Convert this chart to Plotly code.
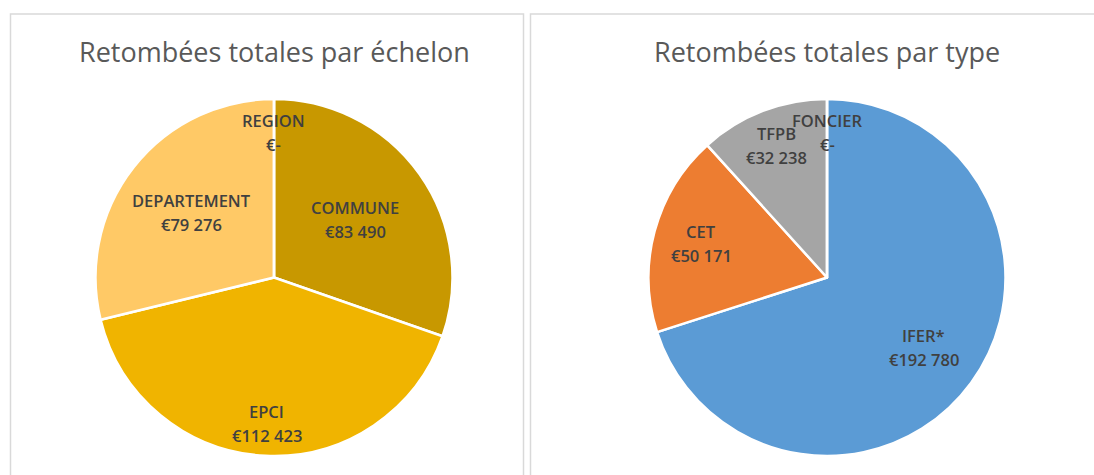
import math
import plotly.graph_objects as go

# Retombées fiscales, réparties par échelon et par type d'impôt (en euros)
echelon_labels = ["COMMUNE", "EPCI", "DEPARTEMENT", "REGION"]
echelon_values = [83490, 112423, 79276, 0]
echelon_colors = ["#C89800", "#F0B400", "#FFC966", "#FFE0A0"]

type_labels = ["IFER*", "CET", "TFPB", "FONCIER"]
type_values = [192780, 50171, 32238, 0]
type_colors = ["#5B9BD5", "#ED7D31", "#A5A5A5", "#FFC000"]

titles = ["Retombées totales par échelon", "Retombées totales par type"]

# Radial placement of each data label, as a fraction of the pie radius
echelon_label_r = [0.56, 0.82, 0.59, 0.81]
type_label_r = [0.67, 0.73, 0.79, 0.81]

W, H = 1094, 475
PIE_R = 178.5
centers = [(274.0, 277.5), (827.0, 277.5)]

LABEL_FONT = dict(family="Open Sans", size=16.5, color="#404040", weight=600)
TITLE_FONT = dict(family="Open Sans", size=27, color="#595959")


def euro(v):
    if v == 0:
        return "€-"
    return "€" + f"{v:,}".replace(",", " ")


fig = go.Figure()
annotations = []

groups = [
    (echelon_labels, echelon_values, echelon_colors, echelon_label_r),
    (type_labels, type_values, type_colors, type_label_r),
]

for (labels, values, colors, label_r), (cx, cy), title in zip(groups, centers, titles):
    fig.add_trace(go.Pie(
        labels=labels,
        values=values,
        sort=False,
        direction="clockwise",
        rotation=0,
        marker=dict(colors=colors, line=dict(color="white", width=2.5)),
        textinfo="none",
        hoverinfo="label+value",
        showlegend=False,
        domain=dict(
            x=[(cx - PIE_R) / W, (cx + PIE_R) / W],
            y=[1 - (cy + PIE_R) / H, 1 - (cy - PIE_R) / H],
        ),
    ))

    # data labels placed along each slice's bisector
    total = sum(values)
    start = 0.0
    for lab, val, frac in zip(labels, values, label_r):
        sweep = 360.0 * val / total
        mid = math.radians(start + sweep / 2)
        start += sweep
        px = cx + frac * PIE_R * math.sin(mid)
        py = cy - frac * PIE_R * math.cos(mid)
        for txt, shift in ((lab, 12), (euro(val), -12)):
            annotations.append(dict(
                x=px / W, y=1 - py / H, xref="paper", yref="paper",
                text=txt, showarrow=False, yshift=shift,
                font=LABEL_FONT,
                xanchor="center", yanchor="middle",
            ))

    annotations.append(dict(
        x=cx / W, y=1 - 52 / H, xref="paper", yref="paper",
        text=title, showarrow=False, font=TITLE_FONT,
        xanchor="center", yanchor="middle",
    ))

# chart-area frames
shapes = [
    dict(type="rect", xref="paper", yref="paper",
         x0=10.5 / W, x1=523.5 / W, y0=-0.05, y1=1 - 14 / H,
         line=dict(color="#D9D9D9", width=1.5), fillcolor="rgba(0,0,0,0)"),
    dict(type="rect", xref="paper", yref="paper",
         x0=530.5 / W, x1=1.05, y0=-0.05, y1=1 - 14 / H,
         line=dict(color="#D9D9D9", width=1.5), fillcolor="rgba(0,0,0,0)"),
]

fig.update_layout(
    width=W, height=H,
    margin=dict(l=0, r=0, t=0, b=0),
    paper_bgcolor="white",
    plot_bgcolor="white",
    annotations=annotations,
    shapes=shapes,
)

fig.write_html("out.html")
